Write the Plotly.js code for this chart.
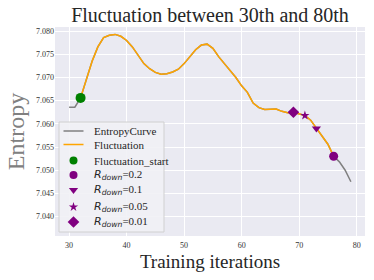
<!DOCTYPE html>
<html>
<head>
<meta charset="utf-8">
<script src="https://cdn.plot.ly/plotly-3.0.1.min.js"></script>
<style>html,body{margin:0;padding:0;background:#fff;}#chart{width:374px;height:280px;}</style>
</head>
<body>
<div id="chart"></div>
<script>
// Iterations and entropy curve values
const iterations = [30,31,32,33,34,35,36,37,38,39,40,41,42,43,44,45,46,47,48,49,50,51,52,53,54,55,56,57,58,59,60,61,62,63,64,65,66,67,68,69,70,71,72,73,74,75,76,77,78,79];
const entropy = [7.0636,7.0636,7.0656,7.0695,7.0735,7.0766,7.0786,7.0791,7.0793,7.0789,7.0780,7.0766,7.0748,7.0730,7.0719,7.0711,7.0707,7.0708,7.0712,7.0718,7.0730,7.0745,7.0760,7.0770,7.0772,7.0763,7.0745,7.0730,7.0716,7.0700,7.0682,7.0668,7.0645,7.0635,7.0631,7.0632,7.0632,7.0627,7.0624,7.0625,7.0622,7.0618,7.0608,7.0590,7.0573,7.0556,7.0530,7.0518,7.0500,7.0475];
const fluctStart = 32;
const fluctEnd = 76;
const rdownLabels = ["0.2","0.1","0.05","0.01"];
const rdownIters = [76,73,71,69];
const rdownSymbols = ["circle","triangle-down","star","diamond"];
const rdownSizes = [9,8,7,9];
const xTicks = [30,40,50,60,70,80];
const yTicks = [7.040,7.045,7.050,7.055,7.060,7.065,7.070,7.075,7.080];

const valAt = it => entropy[iterations.indexOf(it)];
const fx = iterations.filter(v => v >= fluctStart && v <= fluctEnd);
const fy = fx.map(valAt);

const serif = "Liberation Serif";
const purple = "#800080";
const grayC = "#808080", orangeC = "#FFA500", greenC = "#008000";

const traces = [
  {x: iterations, y: entropy, mode: "lines", name: "EntropyCurve", line: {color: grayC, width: 1.5}},
  {x: fx, y: fy, mode: "lines", name: "Fluctuation", line: {color: orangeC, width: 1.5}},
  {x: [fluctStart], y: [valAt(fluctStart)], mode: "markers", name: "Fluctuation_start", marker: {color: greenC, size: 10, symbol: "circle"}}
];
rdownLabels.forEach((lab, i) => {
  traces.push({
    x: [rdownIters[i]], y: [valAt(rdownIters[i])], mode: "markers", name: "R_down=" + lab,
    marker: {color: purple, size: rdownSizes[i], symbol: rdownSymbols[i]}
  });
});

// Hand-drawn legend (matplotlib-style compact legend), placed on an overlay axis in plot pixels
const legendNames = ["EntropyCurve", "Fluctuation", "Fluctuation_start"].concat(
  rdownLabels.map(l => '<span style="font-family:DejaVu Sans"><i>R</i><sub><i>down</i></sub></span>=' + l));
const legendRowY = [104, 117.5, 133.5, 148, 163, 180, 195]; // px from plot top
const plotW = 310, plotH = 209;
const symX = 18.5;
const box = {x0: 4, x1: 109, y0: 95, y1: 205};
traces.push({x: [box.x0, box.x1, box.x1, box.x0, box.x0], y: [box.y0, box.y0, box.y1, box.y1, box.y0], xaxis: "x2", yaxis: "y2",
  mode: "lines", fill: "toself", fillcolor: "rgba(240,240,245,0.88)", line: {color: "#d0d0d0", width: 1}, hoverinfo: "skip"});
traces.push({x: [symX - 10, symX + 10], y: [legendRowY[0], legendRowY[0]], xaxis: "x2", yaxis: "y2", mode: "lines", line: {color: grayC, width: 1.5}, hoverinfo: "skip"});
traces.push({x: [symX - 10, symX + 10], y: [legendRowY[1], legendRowY[1]], xaxis: "x2", yaxis: "y2", mode: "lines", line: {color: orangeC, width: 1.5}, hoverinfo: "skip"});
traces.push({x: [symX], y: [legendRowY[2]], xaxis: "x2", yaxis: "y2", mode: "markers", marker: {color: greenC, size: 8, symbol: "circle"}, hoverinfo: "skip"});
rdownSymbols.forEach((s, i) => {
  traces.push({x: [symX], y: [legendRowY[3 + i]], xaxis: "x2", yaxis: "y2", mode: "markers",
    marker: {color: purple, size: [8, 8, 7, 9][i], symbol: s}, hoverinfo: "skip"});
});
const annotations = legendNames.map((t, i) => ({
  text: t, xref: "x2", yref: "y2", x: 36.5, y: legendRowY[i], xanchor: "left", yanchor: "middle",
  showarrow: false, font: {family: serif, size: 11, color: "#262626"}
}));

const layout = {
  width: 374, height: 280,
  margin: {l: 55, r: 9, t: 27, b: 44},
  paper_bgcolor: "#ffffff", plot_bgcolor: "#EAEAF2",
  font: {family: serif, color: "#262626"},
  showlegend: false,
  title: {text: "Fluctuation between 30th and 80th", font: {family: serif, size: 20, color: "#262626"},
          x: 0.5, xref: "paper", xanchor: "center", y: 0.945, yref: "container", yanchor: "middle"},
  xaxis: {range: [27.55, 81.45], tickvals: xTicks, ticktext: xTicks.map(String), showgrid: true, gridcolor: "#ffffff", gridwidth: 1,
          zeroline: false, showline: false, ticks: "", ticklabelstandoff: 3, tickfont: {family: serif, size: 8, color: "#333"},
          title: {text: "Training iterations", font: {family: serif, size: 19, color: "#262626"}, standoff: 5}, automargin: false},
  yaxis: {range: [7.0358, 7.0809], tickvals: yTicks, ticktext: yTicks.map(v => v.toFixed(3)), showgrid: true, gridcolor: "#ffffff", gridwidth: 1,
          zeroline: false, showline: false, ticks: "", tickfont: {family: serif, size: 8, color: "#333"},
          title: {text: "Entropy", font: {family: serif, size: 24, color: "#808080"}, standoff: 4}, automargin: false},
  xaxis2: {overlaying: "x", range: [0, plotW], visible: false, fixedrange: true},
  yaxis2: {overlaying: "y", range: [plotH, 0], visible: false, fixedrange: true},
  annotations: annotations
};
Plotly.newPlot("chart", traces, layout, {displayModeBar: false, staticPlot: true});
</script>
</body>
</html>
